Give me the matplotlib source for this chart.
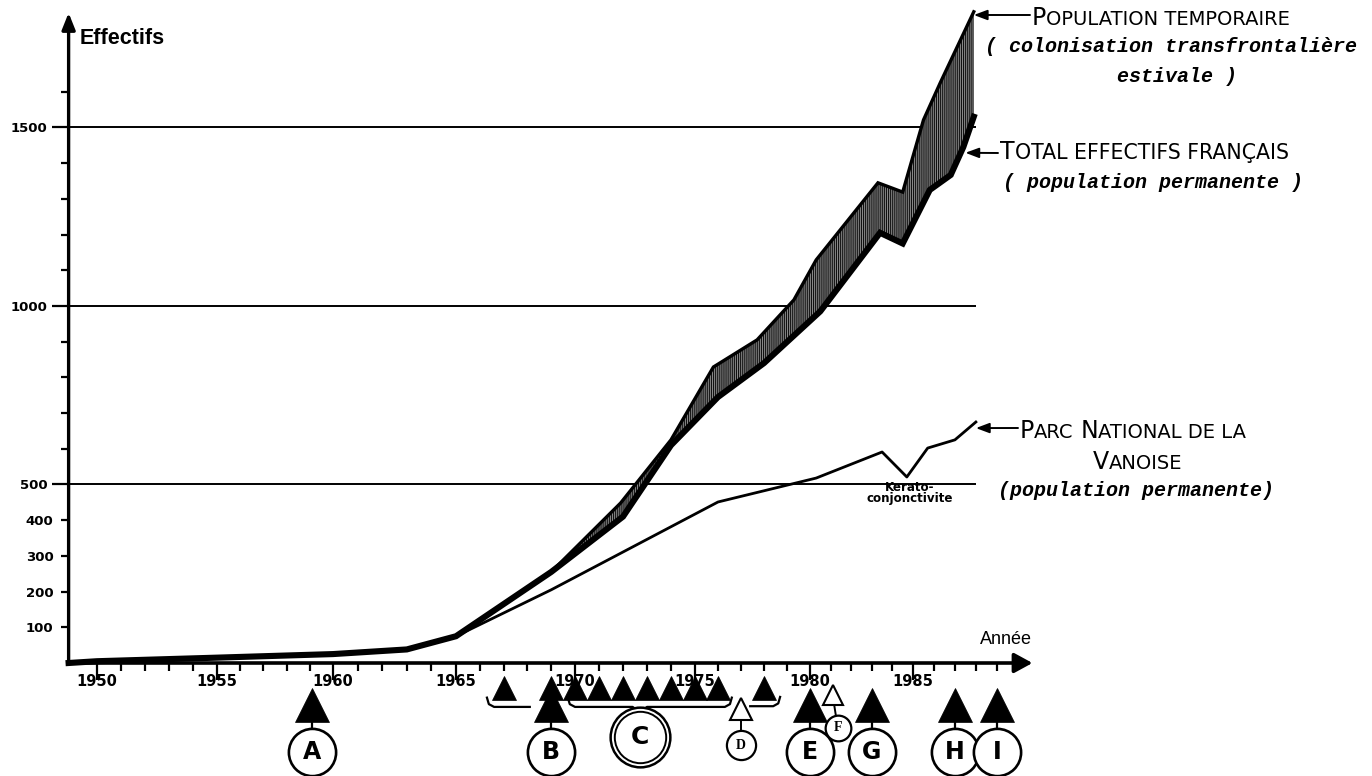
import numpy as np
import matplotlib
matplotlib.use("Agg")
import matplotlib.pyplot as plt

# the hand-drawn year axis is not evenly spaced: year -> column of the scan
CAL_YEARS = [1945.9, 1950, 1955, 1960, 1965, 1970, 1975, 1980, 1985, 2006.9]
CAL_POS = [0, 97, 217, 333, 456, 575, 695, 810, 913, 1372]

# Total effectifs français (population permanente)
total_years = [1948.8, 1950, 1955, 1960, 1963, 1965, 1969, 1972, 1974, 1976, 1978,
               1980.5, 1983.4, 1984.5, 1985.8, 1986.8, 1987.4, 1987.9]
total_vals = [0, 5, 15, 25, 38, 75, 255, 410, 610, 745, 840,
              985, 1205, 1175, 1325, 1367, 1445, 1530]

# Population temporaire (upper edge of the hatched band)
temp_years = [1969, 1971.9, 1974, 1975.8, 1977.7, 1979.3, 1980.3, 1983.3, 1984.5,
              1985.5, 1986.3, 1987.9]
temp_vals = [255, 448, 625, 829, 905, 1017, 1129, 1345, 1319, 1521, 1625, 1824]

# Parc National de la Vanoise
vanoise_years = [1963, 1965, 1969, 1976, 1980.3, 1983.5, 1984.7, 1985.7, 1987, 1988]
vanoise_vals = [38, 75, 205, 451, 518, 591, 521, 602, 625, 675]

grid_vals = [500, 1000, 1500]

# events drawn under the year axis
event_letters = ['A', 'B', 'E', 'G', 'H', 'I']
event_years = [1959.1, 1969.0, 1980.0, 1983.0, 1987.0, 1989.0]
small_event_letters = ['D', 'F']
small_event_tri_years = [1977.0, 1981.1]
small_event_circle_years = [1977.0, 1981.35]
campaign_years = [1967, 1969, 1970, 1971, 1972, 1973, 1974, 1975, 1976, 1978]
campaign_year = 1972.7
brace_spans = [(1966.3, 1968.1), (1969.7, 1976.6), (1977.4, 1978.7)]

W, H = 1372, 776


def to_pos(x):
    return np.interp(x, CAL_YEARS, CAL_POS)


def to_year(p):
    return np.interp(p, CAL_POS, CAL_YEARS)


def frac(px, py):
    return (px / W, 1 - py / H)


def small_caps(ax, px, py, parts, big=17, small=14):
    prev = None
    for txt, is_big, gap in parts:
        size = big if is_big else small
        if prev is None:
            prev = ax.text(*frac(px, py), txt, transform=ax.transAxes, fontsize=size,
                           va='baseline', ha='left', family='DejaVu Sans')
        else:
            prev = ax.annotate(txt, xy=(1, frac(px, py)[1]),
                               xycoords=(prev, 'axes fraction'),
                               xytext=(gap, 0), textcoords='offset points',
                               fontsize=size, va='baseline', ha='left',
                               family='DejaVu Sans')


def brace(ax, x0, x1, y, left=True, right=True, cusp=None):
    hook = 26
    xs, ys = [], []
    if left:
        xs += [x0, x0 + 0.08, x0 + 0.3]
        ys += [y + hook, y + hook * 0.3, y]
    else:
        xs += [x0]
        ys += [y]
    if cusp is not None:
        xs += [cusp - 0.3, cusp, cusp + 0.3]
        ys += [y, y - 14, y]
    if right:
        xs += [x1 - 0.3, x1 - 0.08, x1]
        ys += [y, y + hook * 0.3, y + hook]
    else:
        xs += [x1]
        ys += [y]
    ax.plot(xs, ys, color='k', lw=1.6, clip_on=False)


plt.rcParams['hatch.linewidth'] = 0.8

fig = plt.figure(figsize=(W / 100, H / 100), dpi=100)
ax = fig.add_axes([0, 0, 1, 1])
ax.set_xscale('function', functions=(to_pos, to_year))
ax.set_xlim(CAL_YEARS[0], CAL_YEARS[-1])
ax.set_ylim(-316.5, 1857)

x0 = total_years[0]
for side in ['top', 'right']:
    ax.spines[side].set_visible(False)
ax.spines['bottom'].set_position(('data', 0))
ax.spines['left'].set_position(('data', x0))
ax.spines['bottom'].set_color('none')
ax.spines['left'].set_color('none')

# axes drawn as arrows
ax.annotate('', xy=(1990.7, 0), xytext=(x0, 0),
            arrowprops=dict(arrowstyle='-|>,head_length=11,head_width=6', mutation_scale=1,
                            lw=2.6, color='k', shrinkA=0, shrinkB=0))
ax.annotate('', xy=(x0, 1821), xytext=(x0, 0),
            arrowprops=dict(arrowstyle='-|>,head_length=10,head_width=4', mutation_scale=1,
                            lw=2.4, color='k', shrinkA=0, shrinkB=0))

# ticks
ax.set_xticks(range(1950, 1990, 5), labels=[str(y) for y in range(1950, 1990, 5)],
              fontweight='bold', fontsize=10.5)
ax.set_xticks([y for y in range(1951, 1990) if y % 5], minor=True)
ax.tick_params(axis='x', which='major', direction='out', length=12, width=1.6, pad=-4)
ax.tick_params(axis='x', which='minor', direction='out', length=6, width=1.6)
ax.set_yticks(grid_vals, labels=[str(v) for v in grid_vals], fontweight='bold', fontsize=9.5)
ymin = [v for v in range(100, 1700, 100) if v not in grid_vals]
ax.set_yticks(ymin, labels=[str(v) if v < 500 else '' for v in ymin], minor=True,
              fontweight='bold', fontsize=9.5)
ax.tick_params(axis='y', which='major', direction='out', length=12, width=1.6, pad=3)
ax.tick_params(axis='y', which='minor', direction='out', length=6, width=1.6, pad=5)

# horizontal reference lines
ax.hlines(grid_vals, x0, 1988, color='k', lw=1.4, zorder=1)

# hatched band between permanent and temporary population
band_start = total_years.index(temp_years[0])
band_x = np.r_[temp_years, total_years[band_start:][::-1]]
band_y = np.r_[temp_vals, total_vals[band_start:][::-1]]
ax.fill(band_x, band_y, facecolor='#8c8c8c', edgecolor='#111111', hatch='||||||||',
        linewidth=0, zorder=2)
ax.plot(temp_years, temp_vals, color='k', lw=2.4, zorder=3, solid_joinstyle='miter')
ax.plot(total_years, total_vals, color='k', lw=4.4, zorder=3, solid_joinstyle='miter')
ax.plot(vanoise_years, vanoise_vals, color='k', lw=2.0, zorder=3)

# labels of axes
ax.text(*frac(80, 38), 'Effectifs', transform=ax.transAxes, fontsize=15.5,
        fontweight='bold', family='Liberation Sans', va='center', ha='left')
ax.text(*frac(980, 640), 'Année', transform=ax.transAxes, fontsize=13,
        family='Liberation Sans', va='center', ha='left')

# curve captions
arrow = dict(arrowstyle='-|>,head_length=8,head_width=3', mutation_scale=1, lw=1.4,
             color='k', shrinkA=0, shrinkB=0)
mono = dict(family='Liberation Mono', style='italic', fontweight='bold', fontsize=14.4,
            transform=ax.transAxes, va='center')

ax.annotate('', xy=(1987.9, 1815), xytext=frac(1030, 15), textcoords='axes fraction',
            arrowprops=arrow)
small_caps(ax, 1032, 25, [('P', True, 0), ('OPULATION TEMPORAIRE', False, 0)])
ax.text(*frac(985, 47), '( colonisation transfrontalière', ha='left', **mono)
ax.text(*frac(1177, 77), 'estivale )', ha='center', **mono)

ax.annotate('', xy=(1987.5, 1429), xytext=frac(998, 153), textcoords='axes fraction',
            arrowprops=arrow)
small_caps(ax, 1000, 159, [('T', True, 0), ('OTAL EFFECTIFS FRANÇAIS', False, 0)],
           small=14.8)
ax.text(*frac(1003, 182), '( population permanente )', ha='left', **mono)

ax.annotate('', xy=(1988.0, 658), xytext=frac(1018, 428), textcoords='axes fraction',
            arrowprops=arrow)
small_caps(ax, 1020, 438, [('P', True, 0), ('ARC', False, 0), ('N', True, 5),
                           ('ATIONAL DE LA', False, 0)])
small_caps(ax, 1093, 469, [('V', True, 0), ('ANOISE', False, 0)])
ax.text(*frac(998, 490), '(population permanente)', ha='left', **mono)

ax.text(1984.85, 476, 'Kerato-\nconjonctivite', fontsize=8.6, fontweight='bold',
        ha='center', va='center', linespacing=0.85)

# events under the axis
tri_y, circ_y = -118, -249
for letter, yr in zip(event_letters, event_years):
    ax.plot([yr, yr], [tri_y, circ_y], color='k', lw=1.6, zorder=3, clip_on=False)
ax.plot(campaign_years, [-71] * len(campaign_years), '^', color='k', ms=17, mew=0.5,
        ls='none', zorder=3.5, clip_on=False)
ax.plot(event_years, [tri_y] * len(event_years), '^', color='k', ms=25, mew=0.5,
        ls='none', zorder=4, clip_on=False)
ax.plot(event_years, [circ_y] * len(event_years), 'o', mfc='white', mec='k', ms=34,
        mew=1.9, ls='none', zorder=4, clip_on=False)
for letter, yr in zip(event_letters, event_years):
    ax.text(yr, circ_y, letter, fontsize=17, fontweight='heavy', ha='center',
            va='center', zorder=5)

small_tri_y = [-129, -90]
small_circ_y = [-230, -182]
small_circ_ms = [21, 18.5]
small_tri_ms = [16, 14.5]
for i, letter in enumerate(small_event_letters):
    xt, xc = small_event_tri_years[i], small_event_circle_years[i]
    ax.plot([xt, xc], [small_tri_y[i], small_circ_y[i]], color='k', lw=1.4, zorder=3,
            clip_on=False)
    ax.plot(xt, small_tri_y[i], '^', mfc='white', mec='k', ms=small_tri_ms[i], mew=1.5,
            zorder=4, clip_on=False)
    ax.plot(xc, small_circ_y[i], 'o', mfc='white', mec='k', ms=small_circ_ms[i], mew=1.6,
            zorder=4, clip_on=False)
    ax.text(xc, small_circ_y[i], letter, fontsize=10, fontweight='bold',
            family='Liberation Serif', ha='center', va='center', zorder=5)

ax.plot(campaign_year, -207, 'o', mfc='white', mec='k', ms=43, mew=1.8, zorder=4,
        clip_on=False)
ax.plot(campaign_year, -207, 'o', mfc='white', mec='k', ms=37, mew=1.4, zorder=4,
        clip_on=False)
ax.text(campaign_year, -207, 'C', fontsize=18, fontweight='heavy', ha='center',
        va='center', zorder=5)

brace(ax, *brace_spans[0], -123, left=True, right=False)
brace(ax, *brace_spans[1], -123, left=True, right=True, cusp=campaign_year)
brace(ax, *brace_spans[2], -121, left=False, right=True)

fig.savefig('out.png', dpi=100, facecolor='white')
